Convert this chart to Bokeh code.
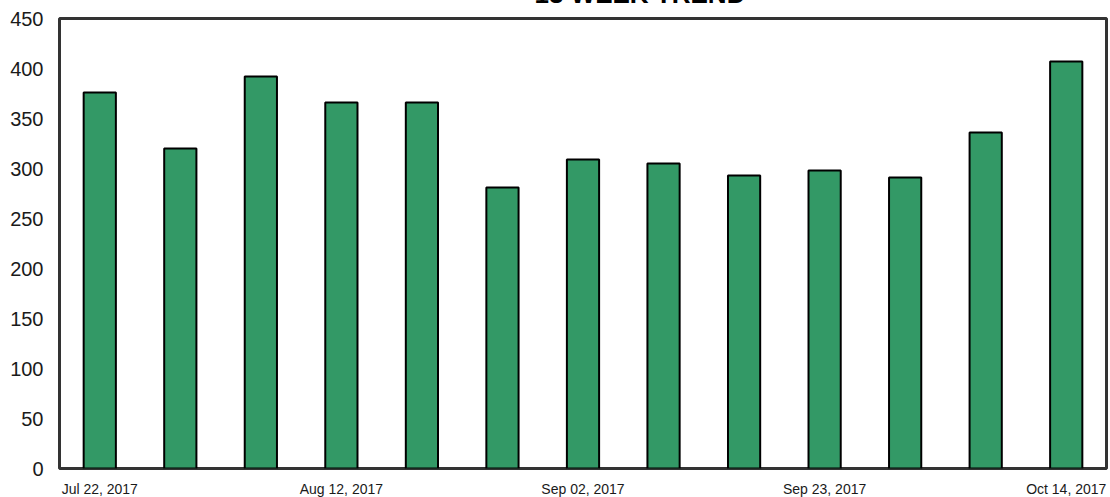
from bokeh.plotting import figure
from bokeh.models import Range1d, FixedTicker, ColumnDataSource
from bokeh.embed import file_html
from bokeh.resources import INLINE

# ---- data ----
weeks = ["Jul 22, 2017", "Jul 29, 2017", "Aug 05, 2017", "Aug 12, 2017",
         "Aug 19, 2017", "Aug 26, 2017", "Sep 02, 2017", "Sep 09, 2017",
         "Sep 16, 2017", "Sep 23, 2017", "Sep 30, 2017", "Oct 07, 2017",
         "Oct 14, 2017"]
counts = [376, 320, 392, 366, 366, 281, 309, 305, 293, 298, 291, 336, 407]
y_ticks = [0, 50, 100, 150, 200, 250, 300, 350, 400, 450]
label_every = 3
title_text = "13 WEEK TREND"

idx = list(range(len(weeks)))
src = ColumnDataSource(dict(x=idx, top=counts, week=weeks))

p = figure(width=1108, height=535, output_backend="svg", toolbar_location=None,
           x_range=Range1d(-0.5, len(weeks) - 0.5), y_range=Range1d(0, 450),
           min_border_left=59, min_border_right=2, min_border_top=54,
           min_border_bottom=31, background_fill_color="white",
           border_fill_color="white", title=title_text)
p.styles = {"margin-top": "-36px", "margin-bottom": "-30px"}

p.title.align = "left"
p.title.offset = 475
p.title.standoff = 20
p.title.vertical_align = "bottom"
p.title.text_font = "Liberation Sans"
p.title.text_font_style = "bold"
p.title.text_font_size = "26px"
p.title.text_color = "#000000"

p.vbar(x="x", top="top", width=0.4, source=src, fill_color="#339966",
       line_color="#000000", line_width=2)

p.outline_line_color = "#333333"
p.outline_line_width = 3
p.xgrid.visible = False
p.ygrid.visible = False

p.yaxis.ticker = FixedTicker(ticks=y_ticks)
p.yaxis.axis_line_color = None
p.yaxis.major_tick_line_color = None
p.yaxis.minor_tick_line_color = None
p.yaxis.major_tick_out = 0
p.yaxis.major_tick_in = 0
p.yaxis.minor_tick_out = 0
p.yaxis.major_label_standoff = 16
p.yaxis.major_label_text_font = "Liberation Sans"
p.yaxis.major_label_text_font_size = "20px"
p.yaxis.major_label_text_color = "#1a1a1a"

shown = idx[::label_every]
p.xaxis.ticker = FixedTicker(ticks=shown)
p.xaxis.major_label_overrides = {i: weeks[i] for i in shown}
p.xaxis.axis_line_color = None
p.xaxis.major_tick_line_color = None
p.xaxis.minor_tick_line_color = None
p.xaxis.major_tick_out = 0
p.xaxis.major_tick_in = 0
p.xaxis.minor_tick_out = 0
p.xaxis.major_label_standoff = 12
p.xaxis.major_label_text_font = "Liberation Sans"
p.xaxis.major_label_text_font_size = "14px"
p.xaxis.major_label_text_color = "#1a1a1a"

open("out.html", "w").write(file_html(p, INLINE))
